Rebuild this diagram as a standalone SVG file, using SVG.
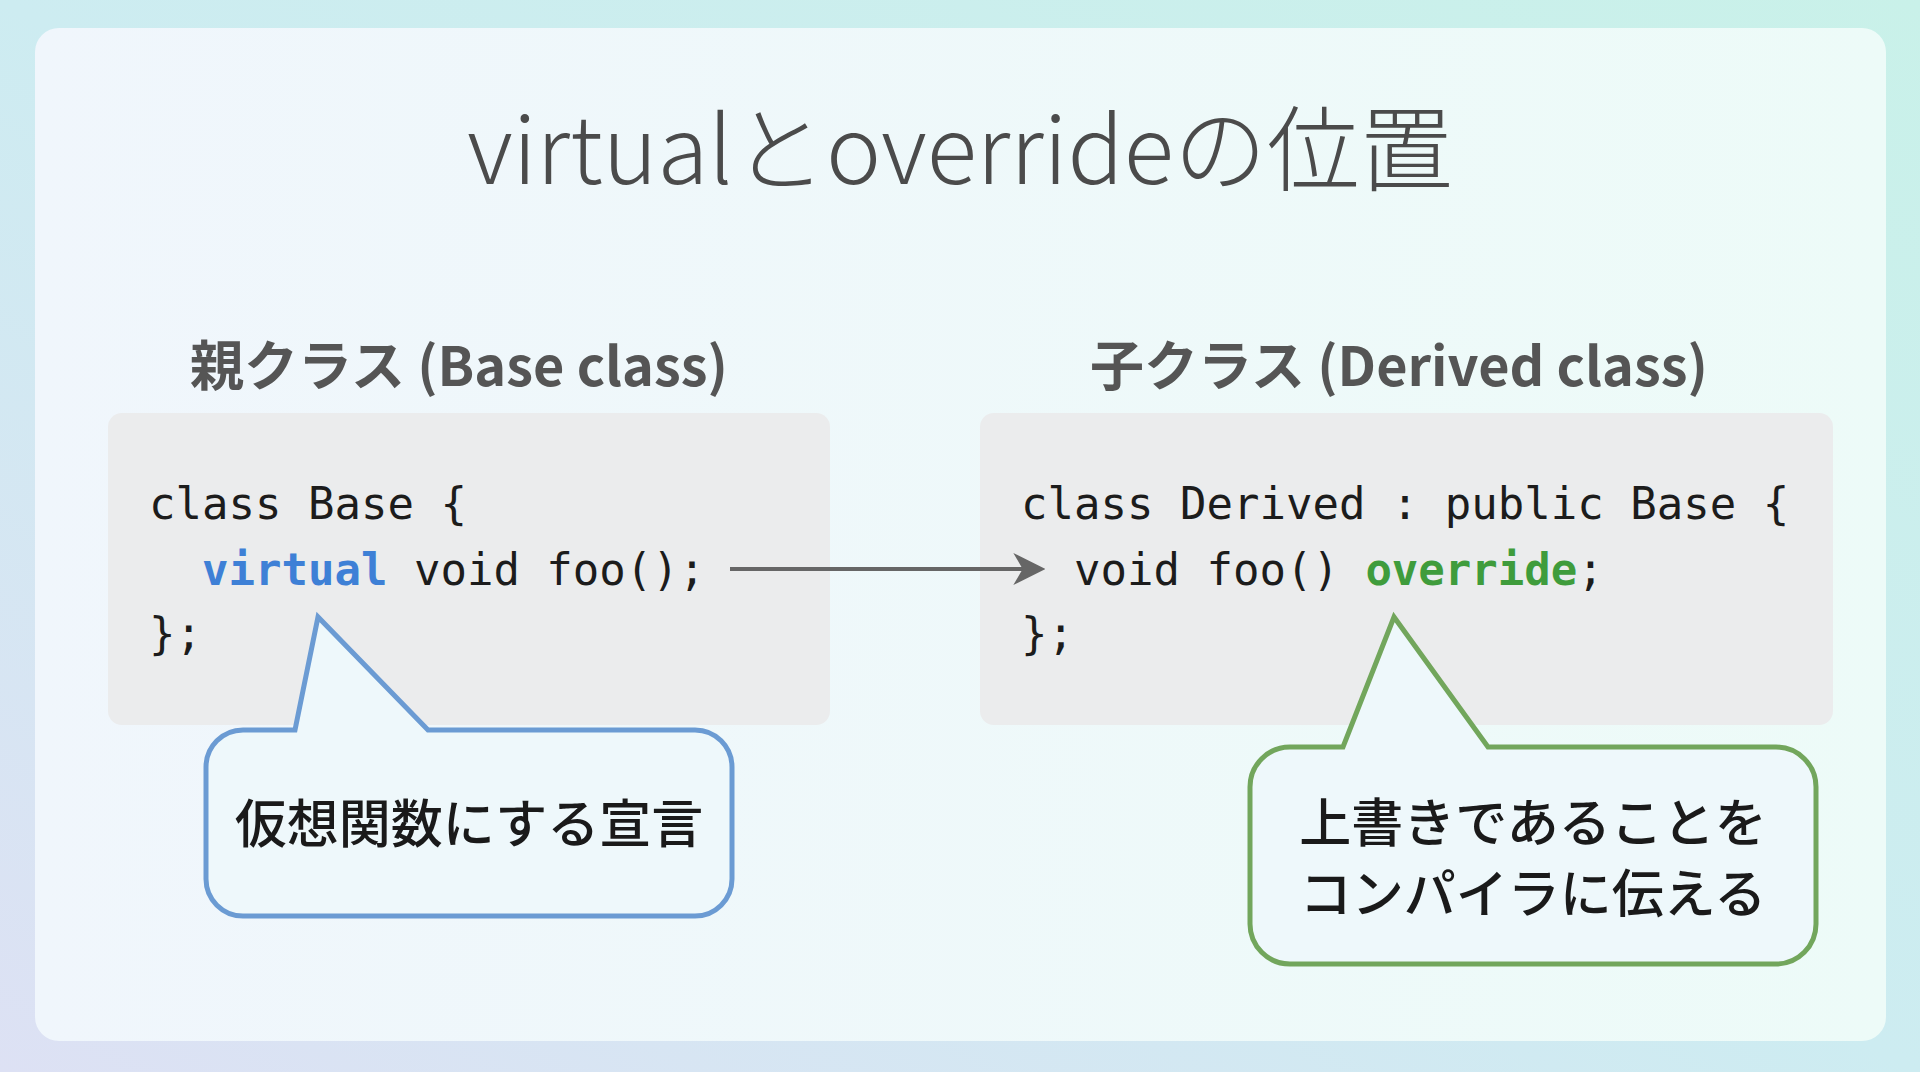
<svg xmlns="http://www.w3.org/2000/svg" width="1920" height="1072" viewBox="0 0 1920 1072">
  <defs>
    <linearGradient id="bg" x1="1" y1="0" x2="0" y2="1">
      <stop offset="0" stop-color="#c9f1e9"/>
      <stop offset="0.5" stop-color="#cdecf1"/>
      <stop offset="1" stop-color="#dde1f4"/>
    </linearGradient>
    <linearGradient id="card" x1="0" y1="0" x2="1" y2="0">
      <stop offset="0" stop-color="#f0f6fc"/>
      <stop offset="1" stop-color="#edfbf8"/>
    </linearGradient>
    <marker id="arrow" viewBox="0 0 12 12" refX="10" refY="6" markerWidth="8" markerHeight="8" markerUnits="strokeWidth" orient="auto">
      <path d="M0 0 L12 6 L0 12 L3.5 6 Z" fill="#666666"/>
    </marker>
    <style>
      .title { font-family: "Noto Sans CJK JP", "Noto Sans", sans-serif; font-size: 93px; font-weight: 300; fill: #4b4b4b; }
      .head { font-family: "Noto Sans CJK JP", "Noto Sans", sans-serif; font-size: 54px; font-weight: 700; fill: #555555; }
      .codebox { fill: #ebeced; }
      .code { font-family: "DejaVu Sans Mono", "Liberation Mono", monospace; font-size: 44px; fill: #1c1c1c; white-space: pre; }
      .kw-blue { font-weight: 700; fill: #3e80d6; }
      .kw-green { font-weight: 700; fill: #3f9c3c; }
      .bubble { fill: #eef8fb; stroke-width: 5; stroke-linejoin: miter; }
      .blue { stroke: #6b9bd3; }
      .green { stroke: #72a65c; }
      .note { font-family: "Noto Sans CJK JP", "Noto Sans", sans-serif; font-size: 52px; font-weight: 500; fill: #1a1a1a; text-anchor: middle; }
      .conn { stroke: #666666; stroke-width: 4; fill: none; }
    </style>
  </defs>

  <rect x="0" y="0" width="1920" height="1072" fill="url(#bg)"/>
  <rect x="35" y="28" width="1851" height="1013" rx="24" fill="url(#card)"/>

  <g id="title">
    <text class="title" x="960" y="184" text-anchor="middle">virtualとoverrideの位置</text>
  </g>

  <g id="base-class">
    <text class="head" x="190" y="386">親クラス (Base class)</text>
    <rect class="codebox" x="108" y="413" width="722" height="312" rx="14"/>
    <text class="code" x="149" y="519">class Base {</text>
    <text class="code" x="149" y="585">  <tspan class="kw-blue">virtual</tspan> void foo();</text>
    <text class="code" x="149" y="649">};</text>
  </g>

  <g id="derived-class">
    <text class="head" x="1090" y="386">子クラス (Derived class)</text>
    <rect class="codebox" x="980" y="413" width="853" height="312" rx="14"/>
    <text class="code" x="1021" y="519">class Derived : public Base {</text>
    <text class="code" x="1021" y="585">  void foo() <tspan class="kw-green">override</tspan>;</text>
    <text class="code" x="1021" y="649">};</text>
  </g>

  <g id="note-virtual">
    <path class="bubble blue" d="M243 730 L295 730 L318 617 L428 730 L695 730 A37 37 0 0 1 732 767 L732 879 A37 37 0 0 1 695 916 L243 916 A37 37 0 0 1 206 879 L206 767 A37 37 0 0 1 243 730 Z"/>
    <text class="note" x="469" y="843">仮想関数にする宣言</text>
  </g>

  <g id="note-override">
    <path class="bubble green" d="M1290 747 L1343 747 L1394 617 L1488 747 L1776 747 A40 40 0 0 1 1816 787 L1816 924 A40 40 0 0 1 1776 964 L1290 964 A40 40 0 0 1 1250 924 L1250 787 A40 40 0 0 1 1290 747 Z"/>
    <text class="note" x="1533" y="842">上書きであることを</text>
    <text class="note" x="1533" y="913">コンパイラに伝える</text>
  </g>

  <g id="connectors">
    <line class="conn" x1="730" y1="569" x2="1040" y2="569" marker-end="url(#arrow)"/>
  </g>
</svg>
